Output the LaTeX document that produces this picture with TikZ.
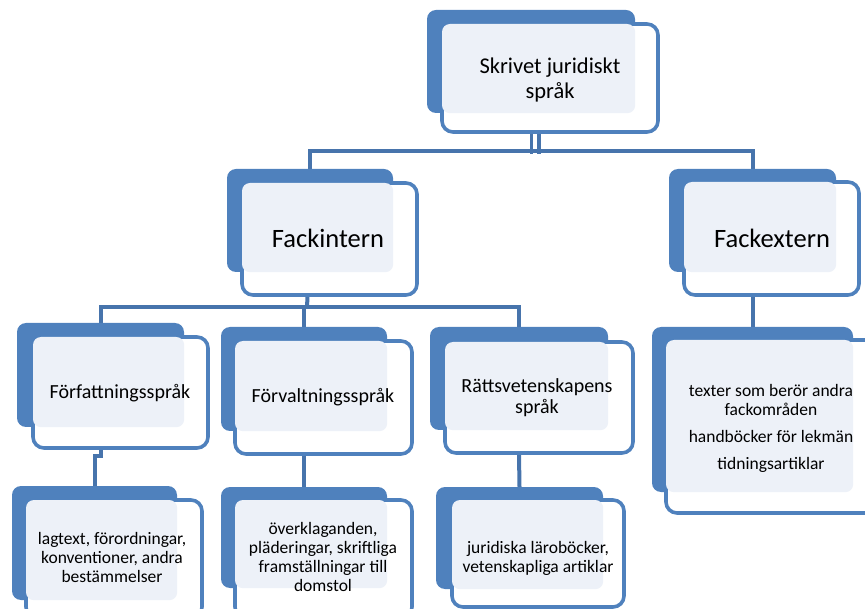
\documentclass[tikz,border=0pt]{standalone}
\usepackage{fontspec}
\setmainfont{Carlito}
\usetikzlibrary{backgrounds}
\definecolor{boxblue}{HTML}{4F81BD}
\definecolor{linkblue}{HTML}{4774AC}
\definecolor{paleblue}{HTML}{EDF1F8}
\begin{document}
\begin{tikzpicture}[x=1pt, y=-1pt]
      \tikzset{back/.style={fill=boxblue, rounded corners=9pt, inner sep=0pt},
        front/.style={draw=boxblue, fill=white, line width=3.6pt, rounded corners=11pt, inner sep=0pt},
        toptext/.style={align=center, font=\fontsize{22.5}{25}\selectfont},
        midtext/.style={align=center, font=\fontsize{26.5}{30}\selectfont},
        subtext/.style={align=center, font=\fontsize{20}{21.5}\selectfont},
        leaftext/.style={align=center, font=\fontsize{17.5}{19}\selectfont},
        link/.style={draw=linkblue, line width=4pt}}
      \clip (0,0) rectangle (865,609);
%% Boxes
	%niveau 1
      	\node[back, minimum width=208, minimum height=103] (top-b) at (531,61.5) {};
      	\node[front, minimum width=216, minimum height=108] (top-f) at (550,78) {};
	%niveau 2
      	\node[back, minimum width=166, minimum height=103] (fi-b) at (310,220.5) {};
      	\node[front, minimum width=175, minimum height=112] (fi-f) at (329.5,239) {};
      	\node[back, minimum width=167, minimum height=103] (fe-b) at (752.5,220.5) {};
      	\node[front, minimum width=175, minimum height=113] (fe-f) at (771.5,238.5) {};
	%niveau 3
      	\node[back, minimum width=167, minimum height=104] (ff-b) at (100.5,375) {};
      	\node[front, minimum width=175, minimum height=111] (ff-f) at (120.5,392.5) {};
      	\node[back, minimum width=166, minimum height=104] (fv-b) at (304,379) {};
      	\node[front, minimum width=177, minimum height=113] (fv-f) at (323.5,397.5) {};
      	\node[back, minimum width=178, minimum height=103] (rv-b) at (519,378.5) {};
      	\node[front, minimum width=188, minimum height=111] (rv-f) at (539,397.5) {};
      	\node[back, minimum width=201, minimum height=165] (fx-b) at (752.5,409.5) {};
      	\node[front, minimum width=219, minimum height=173] (fx-f) at (775.5,426.5) {};
	%niveau 4
      	\node[back, minimum width=165, minimum height=114] (lg-b) at (94.5,543) {};
      	\node[front, minimum width=176, minimum height=118] (lg-f) at (114,559) {};
      	\node[back, minimum width=166, minimum height=101] (ok-b) at (304,537.5) {};
      	\node[front, minimum width=177, minimum height=118] (ok-f) at (323.5,559) {};
      	\node[back, minimum width=167, minimum height=102] (jr-b) at (519.5,538) {};
      	\node[front, minimum width=172, minimum height=107] (jr-f) at (538,553.5) {};
%% Pale overlap
      \foreach \u in {top,fi,fe,ff,fv,rv,fx,lg,ok,jr}
      	\fill[paleblue, rounded corners=8pt] ([shift={(1.8,1.8)}]\u-f.north west) rectangle (\u-b.south east);
%% Texts
      	\node[toptext] (top-t) at (550,80.5) {Skrivet juridiskt\\språk};
      	\node[midtext] (fi-t) at (328,238) {Fackintern};
      	\node[midtext] (fe-t) at (772,238) {Fackextern};
      	\node[subtext] (ff-t) at (120,393) {Författningsspråk};
      	\node[subtext] (fv-t) at (323,397) {Förvaltningsspråk};
      	\node[subtext] (rv-t) at (537,397.5) {Rättsvetenskapens\\språk};
      	\node[leaftext] (fx-t) at (771,428) {texter som berör andra\\fackområden\\[8pt]handböcker för lekmän\\[8pt]tidningsartiklar};
      	\node[leaftext] (lg-t) at (112,557) {lagtext, förordningar,\\konventioner, andra\\bestämmelser};
      	\node[leaftext] (ok-t) at (323,556.5) {överklaganden,\\pläderingar, skriftliga\\framställningar till\\domstol};
      	\node[leaftext] (jr-t) at (538,558.5) {juridiska läroböcker,\\vetenskapliga artiklar};
%% Connectors
      \begin{scope}[on background layer]
      	\coordinate (bus1) at (535,151);
      	\coordinate (bus2) at (307,307);
      	\draw[link, line width=3.5pt, double=white, double distance=4pt] ([xshift=-15]top-f.south) -- ([yshift=-3]bus1);
      	\draw[link] (fi-b.north) |- (bus1) -| (fe-b.north);
      	\draw[link] ([xshift=-22]fi-f.south) -- (bus2);
      	\draw[link] (ff-b.north) |- (bus2) -| (rv-b.north);
      	\draw[link] (fv-b.north) -- (fv-b.north |- bus2);
      	\draw[link] (ff-b.south |- ff-f.south) -- ++(0,6) -| (lg-b.north);
      	\draw[link] (fv-b.south |- fv-f.south) -- (ok-b.north);
      	\draw[link] (rv-b.south |- rv-f.south) -- (jr-b.north);
      	\draw[link] (fe-b.south |- fe-f.south) -- (fx-b.north);
      \end{scope}
\end{tikzpicture}
\end{document}
